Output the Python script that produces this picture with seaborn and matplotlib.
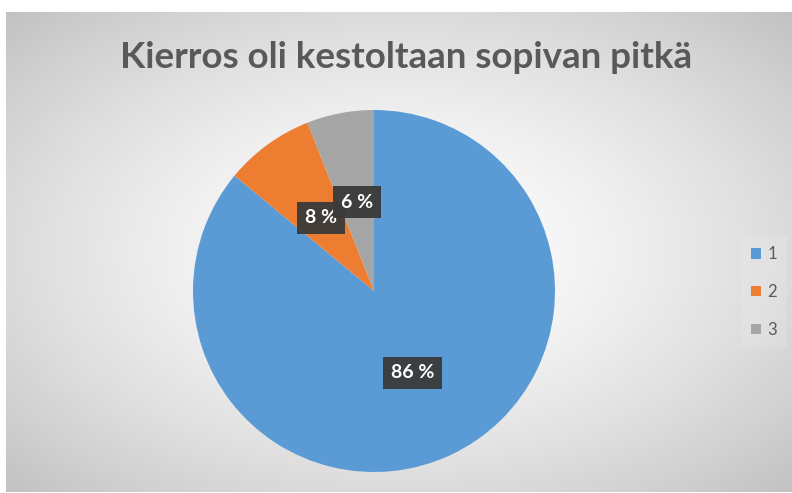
import numpy as np
import matplotlib
matplotlib.use("Agg")
import matplotlib.pyplot as plt
import seaborn as sns

sns.set_theme(style="white")
plt.rcParams['font.family'] = ['Lato', 'DejaVu Sans']

title = "Kierros oli kestoltaan sopivan pitkä"
categories = ["1", "2", "3"]
values = [86, 8, 6]
colors = ["#5B9BD5", "#ED7D31", "#A5A5A5"]

W, H = 792, 493
fig = plt.figure(figsize=(W / 100, H / 100), dpi=100)
fig.patch.set_facecolor("white")

# background radial gradient (chart area)
bx0, by0, bx1, by1 = 6, 12, 792, 492
bg = fig.add_axes([bx0 / W, 1 - by1 / H, (bx1 - bx0) / W, (by1 - by0) / H])
gx = np.linspace(-1, 1, 400)
gy = np.linspace(-1, 1, 250)
XX, YY = np.meshgrid(gx, gy)
R = np.sqrt(XX ** 2 + YY ** 2) / np.sqrt(2)
v = 1.0 - 0.24 * np.clip(R, 0, 1) ** 1.5
img = np.dstack([v, v, v])
bg.imshow(img, aspect="auto", extent=[0, 1, 0, 1], origin="lower")
bg.set_axis_off()

# pie axes
cx, cy, r = 374, 291, 181
ax = fig.add_axes([(cx - r) / W, 1 - (cy + r) / H, 2 * r / W, 2 * r / H])
ax.set_facecolor("none")
wedges, texts, autotexts = ax.pie(
    values, colors=colors, startangle=90, counterclock=False,
    autopct=lambda p: f"{p:.0f} %", pctdistance=0.5, radius=1.0,
    wedgeprops=dict(linewidth=0),
    textprops=dict(color="white", fontsize=14, fontweight="bold"))
for t in autotexts:
    t.set_bbox(dict(boxstyle="square,pad=0.4", facecolor="#3a3a3a",
                    edgecolor="none", alpha=0.95))
ax.set_xlim(-1, 1)
ax.set_ylim(-1, 1)
ax.set_aspect("equal")

fig.text(406 / W, 1 - 58 / H, title, ha="center", va="center",
         fontsize=26.5, fontweight="bold", color="#595959")

leg = fig.legend(wedges, categories, loc="center left",
                 bbox_to_anchor=(741 / W, 1 - 292 / H), frameon=True,
                 fontsize=12, labelcolor="#595959", handlelength=0.6,
                 handleheight=0.6, handletextpad=0.4, labelspacing=1.3,
                 borderpad=0.6, borderaxespad=0, fancybox=False)
leg.get_frame().set_facecolor("white")
leg.get_frame().set_alpha(0.12)
leg.get_frame().set_edgecolor("none")

fig.savefig("out.png", dpi=100)
